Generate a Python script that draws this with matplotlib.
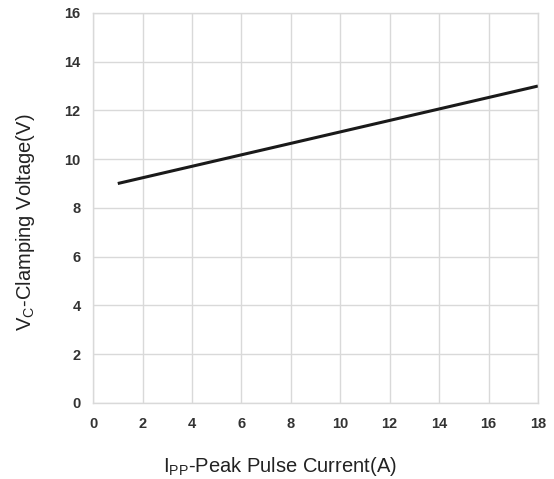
import matplotlib
matplotlib.use("Agg")
import matplotlib.pyplot as plt

plt.rcParams['font.family'] = ['Liberation Sans', 'DejaVu Sans']
plt.rcParams['mathtext.fontset'] = 'custom'
plt.rcParams['mathtext.rm'] = 'Liberation Sans'

current = [1, 18]
voltage = [9.0, 13.0]
xticks = [0, 2, 4, 6, 8, 10, 12, 14, 16, 18]
yticks = [0, 2, 4, 6, 8, 10, 12, 14, 16]

fig = plt.figure(figsize=(5.54, 4.79), dpi=100)
ax = fig.add_axes([0.168, 0.159, 0.803, 0.814])
ax.plot(current, voltage, color='#1a1a1a', lw=2.2, solid_capstyle='butt')
ax.set_xlim(0, 18)
ax.set_ylim(0, 16)
ax.set_xticks(xticks)
ax.set_yticks(yticks)
ax.grid(True, color='#d9d9d9', lw=1.0)
ax.set_axisbelow(True)
for s in ax.spines.values():
    s.set_color('#d9d9d9')
    s.set_linewidth(1.0)
ax.tick_params(length=0, labelsize=10.5, labelcolor='#333333')
ax.tick_params(axis='x', pad=10)
ax.tick_params(axis='y', pad=9)
for lab in ax.get_xticklabels() + ax.get_yticklabels():
    lab.set_fontweight('bold')
ax.set_xlabel(r'I$_{\mathregular{PP}}$-Peak Pulse Current(A)', fontsize=14.5,
              color='#222222', va='center', ha='center')
ax.xaxis.set_label_coords(0.42, -0.164)
ax.set_ylabel(r'V$_{\mathregular{C}}$-Clamping Voltage(V)', fontsize=14.5,
              color='#222222', va='center', ha='center')
ax.yaxis.set_label_coords(-0.153, 0.464)
fig.savefig('out.png', dpi=100)
